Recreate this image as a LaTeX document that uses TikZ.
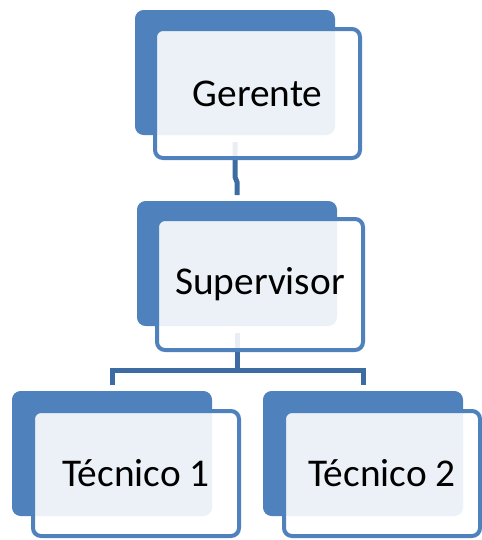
\documentclass[tikz,border=0pt]{standalone}
\usepackage{fontspec}
\setmainfont{Carlito}
\usetikzlibrary{calc}
\definecolor{accent}{HTML}{4F81BD}
\definecolor{connc}{HTML}{3D6CA3}
\tikzset{
  backbox/.style={anchor=north west, rectangle, rounded corners=6.5pt, fill=accent, draw=none,
    minimum width=150pt, minimum height=93.75pt, inner sep=0pt, outer sep=0pt},
  frontbox/.style={anchor=north west, rectangle, rounded corners=6pt, draw=accent, line width=3pt,
    fill=white, fill opacity=0.89, text opacity=1, inner sep=0pt, outer sep=0pt,
    font=\fontsize{29.5}{34}\selectfont, text=black},
  conn/.style={draw=connc, line width=3.75pt}
}
\begin{document}
\begin{tikzpicture}[x=0.75pt,y=-0.75pt]
\useasboundingbox (0,0) rectangle (482,540);
% back boxes (positioned first for connector anchors)
\path (135,10) node[backbox] (gb) {};
\path (137,201) node[backbox] (sb) {};
\path (12,391) node[backbox] (t1b) {};
\path (263,391) node[backbox] (t2b) {};
% connectors
\coordinate (bus) at ($(sb.south)+(0,44.5)$);
\draw[conn] ($(gb.south)+(0,7)$) -- ($(gb.south)+(0,42)$) -- ($(sb.north)+(0,-19)$) -- ($(sb.north)+(0,-6)$);
\draw[conn] ($(sb.south)+(0,7)$) -- (bus);
\draw[conn] ($(t1b.north)+(0,-6)$) |- (bus) -| ($(t2b.north)+(0,-6)$);
% front boxes
\path (155,29) node[frontbox, minimum width=153.75pt, minimum height=96.75pt] (g) {Gerente};
\path (157,219) node[frontbox, minimum width=154.5pt, minimum height=98.25pt] (s) {Supervisor};
\path (33,411) node[frontbox, minimum width=154.5pt, minimum height=93.75pt] (t1) {Técnico 1};
\path (284,411) node[frontbox, minimum width=147pt, minimum height=93.75pt] (t2) {Técnico 2};
\end{tikzpicture}
\end{document}
